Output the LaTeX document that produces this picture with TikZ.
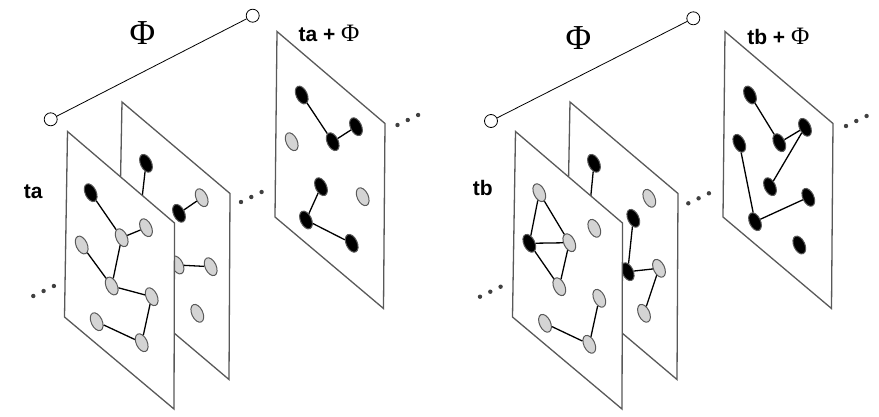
\documentclass[tikz,border=0pt]{standalone}
\usepackage{fontspec}
\setmainfont{Liberation Sans}
\newfontfamily\phifont{Liberation Serif}
\usetikzlibrary{shapes.geometric}
\tikzset{
  frm/.style={draw=black!65,line width=1.3pt,fill=white,line join=miter},
  gv/.style={ellipse,draw=black!65,line width=1pt,fill=black!17,minimum width=11pt,minimum height=19pt,inner sep=0pt,rotate=25},
  bv/.style={gv,fill=black},
  lk/.style={line width=1.3pt},
  philine/.style={line width=0.8pt},
  endpt/.style={circle,draw,line width=0.8pt,fill=white,minimum size=13pt,inner sep=0pt},
  lbl/.style={font=\bfseries\fontsize{21}{24}\selectfont},
  biglbl/.style={font=\phifont\fontsize{35}{38}\selectfont},
}
% three dots, from a start point
\newcommand{\tdots}[2]{\foreach \k in {0,1,2}{\fill[black!75] ({#1+10.3*\k},{#2-5*\k}) circle (2.2pt);}}
\newcommand{\smallphi}{{\phifont\mdseries\fontsize{25}{24}\selectfont Φ}}
\begin{document}
\begin{tikzpicture}[x=1pt,y=-1pt]
\useasboundingbox (0,0) rectangle (879,416);

% ---- left panel
\begin{scope}
\node[endpt] (pa0) at (50.7,119.3) {};
\node[endpt] (pa1) at (252.7,15.7) {};
\draw[philine] (pa0) -- (pa1);
\node[biglbl] (phia) at (142.3,32.7) {Φ};
\node[lbl] (ta) at (33.3,191.7) {ta};
\node[lbl] (taphi) at (329,33) {ta + \smallphi};
\tdots{33.3}{296}
\tdots{241}{202}
\tdots{397.5}{125}
% frame t+phi
\draw[frm] (277,31.5) -- (385,123.5) -- (383.5,308.5) -- (275,217) -- cycle;
\node[bv] (ra1) at (301.7,95) {};
\node[bv] (ra2) at (332.7,141.7) {};
\node[bv] (ra3) at (356,126.7) {};
\node[gv] (ra4) at (291.7,141.7) {};
\node[bv] (ra5) at (321,186.7) {};
\node[gv] (ra6) at (362.7,196.7) {};
\node[bv] (ra7) at (306,220) {};
\node[bv] (ra8) at (351.7,243.3) {};
\draw[lk] (ra1) -- (ra2) (ra2) -- (ra3) (ra5) -- (ra7) (ra7) -- (ra8);
% middle frame
\draw[frm] (122,102) -- (230,193.5) -- (229,379.5) -- (118.5,286) -- cycle;
\node[bv] (ma1) at (146,163.3) {};
\node[gv] (ma0) at (139,225) {};
\node[bv] (ma2) at (179,213.3) {};
\node[gv] (ma3) at (201.7,197.7) {};
\node[gv] (ma4) at (177.5,265) {};
\node[gv] (ma5) at (210.7,266.7) {};
\node[gv] (ma6) at (197.3,313.3) {};
\draw[lk] (ma1) -- (ma0) (ma2) -- (ma3) (ma4) -- (ma5);
% front frame
\draw[frm] (67.5,131.5) -- (174.5,223) -- (174,409) -- (64.5,317) -- cycle;
\node[bv] (fa1) at (90.7,192.7) {};
\node[gv] (fa2) at (121.7,237.7) {};
\node[gv] (fa3) at (146,227.7) {};
\node[gv] (fa4) at (81.7,245) {};
\node[gv] (fa5) at (111.7,286) {};
\node[gv] (fa6) at (151.7,296.7) {};
\node[gv] (fa7) at (96.7,321.7) {};
\node[gv] (fa8) at (141.7,342.7) {};
\draw[lk] (fa1) -- (fa2) (fa2) -- (fa3) (fa4) -- (fa5) (fa2) -- (fa5)
  (fa5) -- (fa6) (fa6) -- (fa8) (fa7) -- (fa8);
\end{scope}

% ---- right panel
\begin{scope}[xshift=448pt]
\node[endpt] (pb0) at (43,121) {};
\node[endpt] (pb1) at (245.3,18.3) {};
\draw[philine] (pb0) -- (pb1);
\node[biglbl] (phib) at (130.3,38.3) {Φ};
\node[lbl] (tb) at (34.7,188.3) {tb};
\node[lbl] (tbphi) at (330.3,36.5) {tb + \smallphi};
\tdots{32}{296.7}
\tdots{240.3}{203.3}
\tdots{398}{126}
% frame t+phi
\draw[frm] (277,31.5) -- (385,123.5) -- (383.5,308.5) -- (275,217) -- cycle;
\node[bv] (rb1) at (302,95) {};
\node[bv] (rb2) at (331.3,142.7) {};
\node[bv] (rb3) at (357,127.3) {};
\node[bv] (rb4) at (291.3,143.3) {};
\node[bv] (rb5) at (322,186.7) {};
\node[bv] (rb6) at (360.3,197.3) {};
\node[bv] (rb7) at (307,221.7) {};
\node[bv] (rb8) at (351.3,245) {};
\draw[lk] (rb1) -- (rb2) (rb2) -- (rb3) (rb3) -- (rb5) (rb4) -- (rb7) (rb7) -- (rb6);
% middle frame
\draw[frm] (122,102) -- (230,193.5) -- (229,379.5) -- (118.5,286) -- cycle;
\node[bv] (mb1) at (146,163.3) {};
\node[gv] (mb0) at (140,225) {};
\node[gv] (mb3) at (201.3,198.3) {};
\node[bv] (mb2) at (185.3,218.3) {};
\node[bv] (mb4) at (179.7,271.7) {};
\node[gv] (mb5) at (211,268.3) {};
\node[gv] (mb6) at (196,313.3) {};
\draw[lk] (mb1) -- (mb0) (mb2) -- (mb4) (mb4) -- (mb5) (mb5) -- (mb6);
% front frame
\draw[frm] (67.5,131.5) -- (174.5,223) -- (174,409) -- (64.5,317) -- cycle;
\node[gv] (fb1) at (91.3,192.7) {};
\node[bv] (fb2) at (81.3,243.3) {};
\node[gv] (fb3) at (121.3,242.7) {};
\node[gv] (fb4) at (146.3,228.3) {};
\node[gv] (fb5) at (111.3,286.7) {};
\node[gv] (fb6) at (151.3,298.3) {};
\node[gv] (fb7) at (97,323.3) {};
\node[gv] (fb8) at (141.3,344.3) {};
\draw[lk] (fb1) -- (fb2) (fb1) -- (fb3) (fb2) -- (fb3) (fb2) -- (fb5) (fb3) -- (fb5)
  (fb6) -- (fb8) (fb7) -- (fb8);
\end{scope}
\end{tikzpicture}
\end{document}
